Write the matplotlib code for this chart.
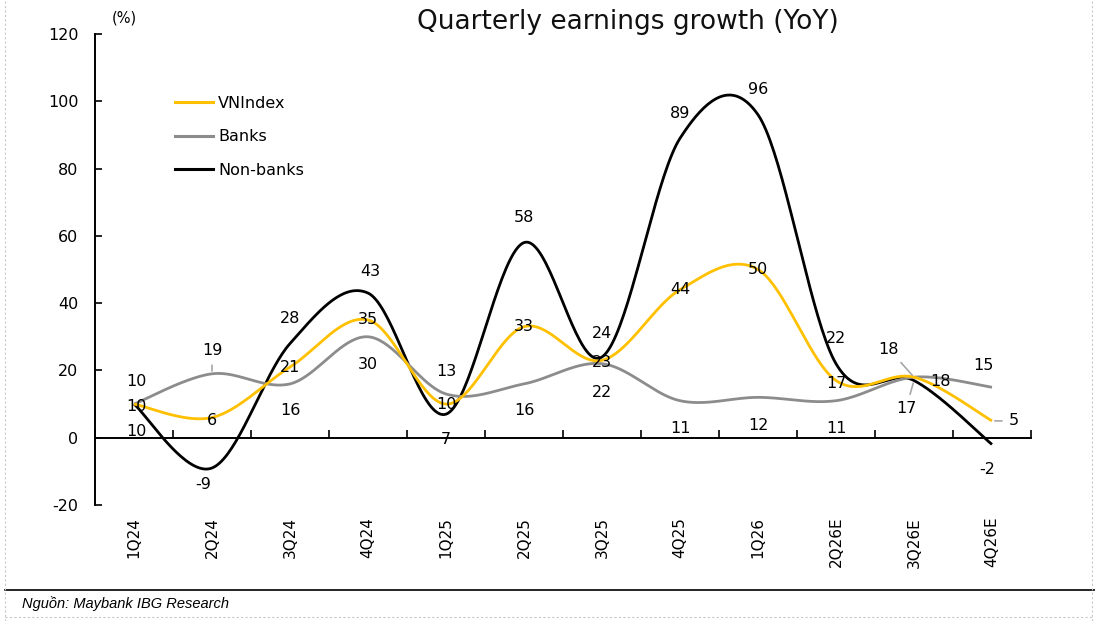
import numpy as np
import matplotlib.pyplot as plt
from matplotlib.lines import Line2D

plt.rcParams['axes.unicode_minus'] = False

quarters = ['1Q24', '2Q24', '3Q24', '4Q24', '1Q25', '2Q25', '3Q25', '4Q25',
            '1Q26', '2Q26E', '3Q26E', '4Q26E']
vnindex = [10, 6, 21, 35, 10, 33, 23, 44, 50, 17, 18, 5]
banks = [10, 19, 16, 30, 13, 16, 22, 11, 12, 11, 18, 15]
non_banks = [10, -9, 28, 43, 7, 58, 24, 89, 96, 22, 17, -2]

YELLOW = '#FFC000'
GREY = '#8C8C8C'
BLACK = '#000000'

# label offsets in pixels (dx, dy), relative to the data point
vn_off = [(2, -2), (0, -3), (0, 0), (0, 0), (0, 0), (0, 0), (0, -2), (0, 0),
          (0, 0), (0, -3), (27, -4), (22, 0)]
bank_off = [(2, 23), (0, 23), (0, -27), (0, -28), (0, 22), (0, -27), (0, -29),
            (0, -28), (0, -28), (0, -28), (-25, 28), (-9, 22)]
nb_off = [(2, -27), (-9, -17), (0, 25), (2, 22), (0, -25), (0, 25), (0, 23),
          (0, 25), (0, 25), (0, 25), (-8, -28), (-5, -25)]


def smooth(ys, n=40):
    """Excel-like smoothed line (Catmull-Rom bezier through the points)."""
    p = np.column_stack([np.arange(len(ys), dtype=float), np.asarray(ys, float)])
    out = []
    t = np.linspace(0, 1, n)[:, None]
    for i in range(len(p) - 1):
        p0 = p[i - 1] if i > 0 else p[i]
        p1, p2 = p[i], p[i + 1]
        p3 = p[i + 2] if i + 2 < len(p) else p[i + 1]
        c1 = p1 + (p2 - p0) / 6
        c2 = p2 - (p3 - p1) / 6
        seg = ((1 - t) ** 3 * p1 + 3 * (1 - t) ** 2 * t * c1
               + 3 * (1 - t) * t ** 2 * c2 + t ** 3 * p2)
        out.append(seg if i == 0 else seg[1:])
    seg = np.vstack(out)
    return seg[:, 0], seg[:, 1]


fig = plt.figure(figsize=(10.95, 6.21), dpi=100)
ax = fig.add_axes([95 / 1095, 1 - 505 / 621, (1031 - 95) / 1095, (505 - 34) / 621])

series = [('VNIndex', vnindex, YELLOW, vn_off),
          ('Banks', banks, GREY, bank_off),
          ('Non-banks', non_banks, BLACK, nb_off)]

for name, vals, col, offs in reversed(series):
    sx, sy = smooth(vals)
    ax.plot(sx, sy, color=col, lw=2.0, solid_capstyle='butt', zorder=3)

leaders = {('VNIndex', 11), ('Banks', 1), ('Banks', 10), ('Non-banks', 10)}
for name, vals, col, offs in series:
    for i, v in enumerate(vals):
        dx, dy = offs[i]
        kw = {}
        if (name, i) in leaders:
            kw['arrowprops'] = dict(arrowstyle='-', color='#A6A6A6', lw=1.2,
                                    shrinkA=3, shrinkB=2)
        ax.annotate(str(v), (i, v), xytext=(dx, dy), textcoords='offset pixels',
                    ha='center', va='center', fontsize=11.5, color='#000000',
                    zorder=4, **kw)

ax.set_xlim(-0.5, 11.5)
ax.set_ylim(-20, 120)
ax.set_yticks(range(-20, 121, 20))
ax.tick_params(axis='y', direction='in', length=5, width=1.2, pad=12, labelsize=11.5)

ax.spines['top'].set_visible(False)
ax.spines['right'].set_visible(False)
ax.spines['left'].set_linewidth(1.4)
ax.spines['bottom'].set_position(('data', 0))
ax.spines['bottom'].set_linewidth(1.4)
ax.set_xticks(np.arange(-0.5, 11.6, 1))
ax.set_xticklabels([])
ax.tick_params(axis='x', direction='in', length=6, width=1.2)

for i, q in enumerate(quarters):
    ax.text(i, -0.025, q, transform=ax.get_xaxis_transform(), rotation=90,
            ha='center', va='top', fontsize=11)

handles = [Line2D([], [], color=c, lw=2.2) for _, _, c, _ in series]
ax.legend(handles, [s[0] for s in series], loc='upper left',
          bbox_to_anchor=(0.07, 0.899), frameon=False, fontsize=11.5,
          handlelength=2.4, handletextpad=0.3, labelspacing=1.16)

fig.text(124 / 1095, 1 - 18 / 621, '(%)', ha='center', va='center', fontsize=10.5)
fig.text(628 / 1095, 1 - 22 / 621, 'Quarterly earnings growth (YoY)',
         ha='center', va='center', fontsize=19, color='#111111')

fig.add_artist(Line2D([5 / 1095, 1], [1 - 590 / 621] * 2, color='black', lw=1.2))
fig.text(22 / 1095, 1 - 604 / 621, 'Nguồn: Maybank IBG Research', ha='left',
         va='center', fontsize=10.5, style='italic', family='Liberation Sans')
for xs, ys in [([5 / 1095] * 2, [0, 1]), ([1092 / 1095] * 2, [0, 1]),
               ([5 / 1095, 1092 / 1095], [1 - 617 / 621] * 2)]:
    fig.add_artist(Line2D(xs, ys, color='#C8C8C8', lw=0.8, ls=(0, (2, 2))))

fig.savefig('out.png', dpi=100)
